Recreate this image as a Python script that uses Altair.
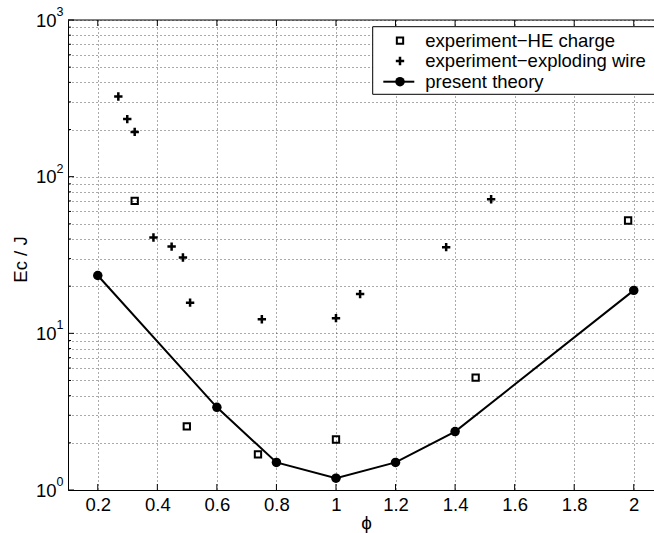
import altair as alt
import pandas as pd

# ---- data ----
phi_theory = [0.2, 0.6, 0.8, 1.0, 1.2, 1.4, 2.0]
ec_theory = [23.4, 3.37, 1.50, 1.19, 1.50, 2.36, 18.8]

phi_he = [0.324, 0.499, 0.738, 1.0, 1.469, 1.981]
ec_he = [70.0, 2.55, 1.69, 2.10, 5.22, 52.5]

phi_wire = [0.269, 0.299, 0.324, 0.387, 0.448, 0.486, 0.510, 0.751, 1.0, 1.081, 1.370, 1.521]
ec_wire = [325, 233, 193, 40.9, 35.8, 30.5, 15.7, 12.3, 12.5, 17.8, 35.5, 71.8]

x_ticks = [0.2, 0.4, 0.6, 0.8, 1.0, 1.2, 1.4, 1.6, 1.8, 2.0]
y_decades = [1, 10, 100, 1000]
y_exponents = ["0", "1", "2", "3"]
y_minor = [m * d for d in [1, 10, 100] for m in range(2, 10)]
y_grid = sorted(y_decades + y_minor)

legend_labels = ["experiment\u2212HE charge", "experiment\u2212exploding wire", "present theory"]

W, H = 586, 470
FONT = "Liberation Sans"
FS = 18.5

xscale = alt.Scale(domain=[0.1, 2.068], nice=False, zero=False)
yscale = alt.Scale(type="log", domain=[1, 1000], nice=False)

df_theory = pd.DataFrame({"phi": phi_theory, "ec": ec_theory})
df_he = pd.DataFrame({"phi": phi_he, "ec": ec_he})
df_wire = pd.DataFrame({"phi": phi_wire, "ec": ec_wire})
df_xt = pd.DataFrame({"phi": x_ticks})
df_yd = pd.DataFrame({"ec": y_decades, "exp": y_exponents})
df_ym = pd.DataFrame({"ec": y_minor})
one = alt.Data(values=[{"k": 0}])

label_expr = "indexof([1, 10, 100, 1000], datum.value) >= 0 ? '10' : ''"

x_axis = alt.Axis(
    values=x_ticks, format="~g", grid=True, gridDash=[1, 3], gridColor="#555",
    gridWidth=1, ticks=False, domainColor="black", labelFontSize=FS, labelFont=FONT,
    labelColor="black", labelPadding=5, title="\u03d5", titleFont=FONT, titleFontSize=19,
    titleFontWeight="normal", titleColor="black", titleX=298, titlePadding=0)
y_axis = alt.Axis(
    values=y_grid, labelExpr=label_expr, grid=True, gridDash=[1, 3], gridColor="#555",
    gridWidth=1, ticks=False, domainColor="black", labelFontSize=FS, labelFont=FONT,
    labelColor="black", labelPadding=12, title="Ec / J", titleFont=FONT, titleFontSize=FS,
    titleFontWeight="normal", titleColor="black", titleX=-48, titleY=239,
    titleAngle=270, titleBaseline="middle", titleAlign="center")

xf = lambda: alt.X("phi:Q", scale=xscale, axis=x_axis)
yf = lambda: alt.Y("ec:Q", scale=yscale, axis=y_axis)

theory_line = alt.Chart(df_theory).mark_line(color="black", strokeWidth=2).encode(x=xf(), y=yf())
theory_pts = alt.Chart(df_theory).mark_point(shape="circle", filled=True, color="black",
                                             size=90, opacity=1).encode(x=xf(), y=yf())
he_pts = alt.Chart(df_he).mark_point(shape="square", filled=False, color="black",
                                     strokeWidth=2, size=40, opacity=1).encode(x=xf(), y=yf())
PLUS = "M-1,0H1M0,-1V1"
wire_pts = alt.Chart(df_wire).mark_point(shape=PLUS, filled=False, color="black",
                                         strokeWidth=2.5, size=70, opacity=1).encode(x=xf(), y=yf())

# decade exponents of the y labels
exp_text = alt.Chart(df_yd).mark_text(align="left", baseline="middle", fontSize=12.5, font=FONT,
                                      color="black", dy=-8).encode(
    y=yf(), x=alt.value(-11.5), text="exp:N")

# inward ticks (MATLAB style) and top border
tick_b = alt.Chart(df_xt).mark_rule(color="black").encode(x=xf(), y=alt.value(H), y2=alt.value(H - 6))
tick_t = alt.Chart(df_xt).mark_rule(color="black").encode(x=xf(), y=alt.value(0), y2=alt.value(6))
tick_yd = alt.Chart(df_yd).mark_rule(color="black").encode(y=yf(), x=alt.value(0), x2=alt.value(6))
tick_ym = alt.Chart(df_ym).mark_rule(color="black").encode(y=yf(), x=alt.value(0), x2=alt.value(3))
top_border = alt.Chart(one).mark_rule(color="black").encode(x=alt.value(0), x2=alt.value(W), y=alt.value(0))

# manual legend
leg_box = alt.Chart(one).mark_rect(fill="white", stroke="black", strokeWidth=1).encode(
    x=alt.value(304.7), x2=alt.value(595), y=alt.value(6.7), y2=alt.value(74.3))
row_y = [20.7, 41.0, 61.7]
sym_x = 332
leg_sq = alt.Chart(one).mark_point(shape="square", filled=False, color="black", strokeWidth=2,
                                   size=40, opacity=1).encode(x=alt.value(sym_x), y=alt.value(row_y[0]))
leg_plus = alt.Chart(one).mark_point(shape=PLUS, filled=False, color="black", strokeWidth=2.5,
                                     size=70, opacity=1).encode(x=alt.value(sym_x), y=alt.value(row_y[1]))
leg_line = alt.Chart(one).mark_rule(color="black", strokeWidth=2).encode(
    x=alt.value(315.3), x2=alt.value(346.3), y=alt.value(row_y[2]))
leg_dot = alt.Chart(one).mark_point(shape="circle", filled=True, color="black", size=90,
                                    opacity=1).encode(x=alt.value(sym_x), y=alt.value(row_y[2]))
leg_texts = [
    alt.Chart(one).mark_text(text=lab, align="left", baseline="middle", fontSize=FS,
                             font=FONT, color="black").encode(x=alt.value(357.3), y=alt.value(yy))
    for lab, yy in zip(legend_labels, row_y)
]

chart = alt.layer(
    theory_line, tick_b, tick_t, tick_yd, tick_ym, top_border, exp_text,
    he_pts, wire_pts, theory_pts,
    leg_box, leg_sq, leg_plus, leg_line, leg_dot, *leg_texts
).properties(
    width=W, height=H,
    autosize=alt.AutoSizeParams(type="none"),
    padding={"left": 68, "top": 20, "right": 0, "bottom": 43},
    background="white",
).configure_view(stroke=None)

chart.save("out.html", embed_options={"renderer": "svg", "actions": False})
